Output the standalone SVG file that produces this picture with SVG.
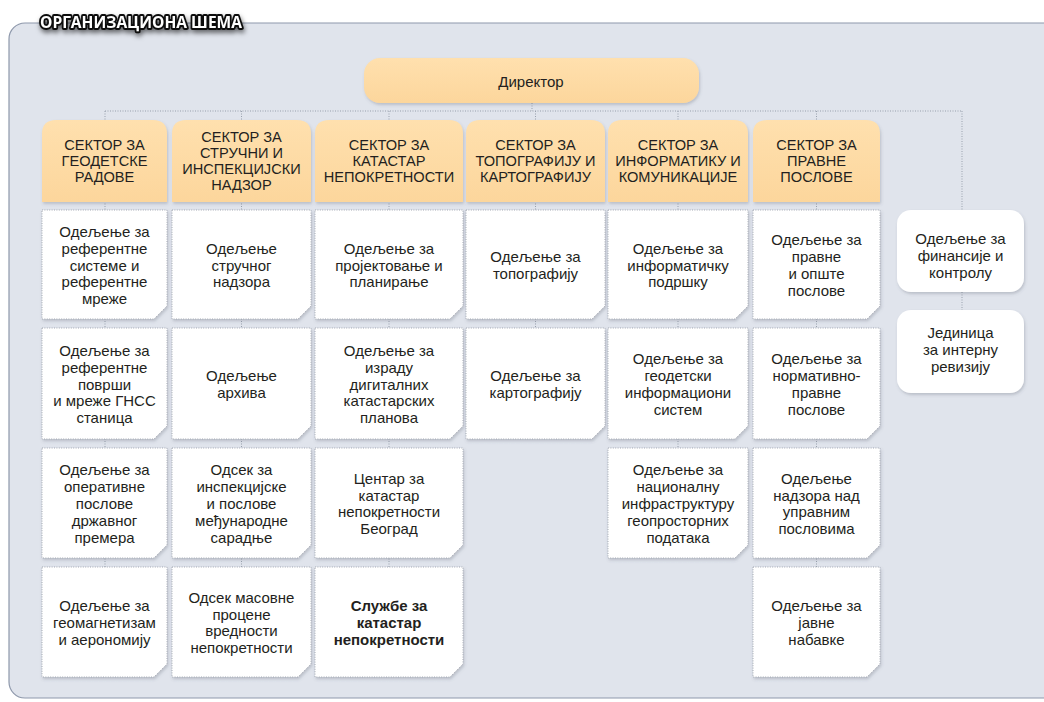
<svg xmlns="http://www.w3.org/2000/svg" width="1044" height="702" viewBox="0 0 1044 702">
<defs>
<linearGradient id="hg" x1="0" y1="0" x2="0" y2="1"><stop offset="0" stop-color="#FFE0AE"/><stop offset="1" stop-color="#FCD69C"/></linearGradient>
<filter id="sh" x="-10%" y="-10%" width="125%" height="130%"><feDropShadow dx="1" dy="2" stdDeviation="1.8" flood-color="#5a6070" flood-opacity="0.28"/></filter>
<filter id="tsh" x="-10%" y="-40%" width="125%" height="200%"><feDropShadow dx="1" dy="3" stdDeviation="2.5" flood-color="#000" flood-opacity="0.55"/></filter>
<style>
.panel{fill:#E0E4EC;stroke:#8E98AB;stroke-width:1.2}
.hdr{fill:url(#hg);filter:url(#sh)}
.cell{fill:#FFFFFF;stroke:#A3A8B2;stroke-width:1;stroke-dasharray:1 1.4;filter:url(#sh)}
.rbox{fill:#FFFFFF;filter:url(#sh)}
.con{fill:none;stroke:#98A0AD;stroke-width:1;stroke-dasharray:1 1.5}
text{font-family:"Liberation Sans",Arial,sans-serif;fill:#231F20;text-anchor:middle}
.h{font-size:14.6px}
.t{font-size:15px}
.b{font-weight:bold}
.title{font-family:"Open Sans","Liberation Sans",sans-serif;font-weight:bold;font-size:16px;fill:#FFFFFF;stroke:#111111;stroke-width:3.8;stroke-linejoin:round;paint-order:stroke;text-anchor:start;filter:url(#tsh)}
</style>
</defs>
<rect x="0" y="0" width="1044" height="702" fill="#FFFFFF"/>
<rect class="panel" x="9" y="23" width="1060" height="675" rx="16"/>
<text class="title" x="40" y="28" textLength="202" lengthAdjust="spacingAndGlyphs">ОРГАНИЗАЦИОНА ШЕМА</text>

<g id="connectors">
<path class="con" d="M532 103V111M105 111H962M105 111V677M241.5 111V677M389 111V677M535.5 111V439M678 111V558M816.5 111V677M962 111V210M962 292V310"/>
</g>

<g id="director">
<rect x="364" y="58" width="335" height="45" rx="16" fill="url(#hg)" filter="url(#sh)"/>
<text class="t" x="531" y="86.5">Директор</text>
</g>

<g id="hdr1"><path class="hdr" d="M42 202V134Q42 120 56 120H153Q167 120 167 134V202Z"/>
<text class="h"><tspan x="104.5" y="149.7">СЕКТОР ЗА</tspan><tspan x="104.5" y="166">ГЕОДЕТСКЕ</tspan><tspan x="104.5" y="182.3">РАДОВЕ</tspan></text></g>
<g id="hdr2"><path class="hdr" d="M172 202V134Q172 120 186 120H297Q311 120 311 134V202Z"/>
<text class="h"><tspan x="241.5" y="141.55">СЕКТОР ЗА</tspan><tspan x="241.5" y="157.85">СТРУЧНИ И</tspan><tspan x="241.5" y="174.15">ИНСПЕКЦИЈСКИ</tspan><tspan x="241.5" y="190.45">НАДЗОР</tspan></text></g>
<g id="hdr3"><path class="hdr" d="M315 202V134Q315 120 329 120H449Q463 120 463 134V202Z"/>
<text class="h"><tspan x="389" y="149.7">СЕКТОР ЗА</tspan><tspan x="389" y="166">КАТАСТАР</tspan><tspan x="389" y="182.3">НЕПОКРЕТНОСТИ</tspan></text></g>
<g id="hdr4"><path class="hdr" d="M466 202V134Q466 120 480 120H591Q605 120 605 134V202Z"/>
<text class="h"><tspan x="535.5" y="149.7">СЕКТОР ЗА</tspan><tspan x="535.5" y="166">ТОПОГРАФИЈУ И</tspan><tspan x="535.5" y="182.3">КАРТОГРАФИЈУ</tspan></text></g>
<g id="hdr5"><path class="hdr" d="M608 202V134Q608 120 622 120H734Q748 120 748 134V202Z"/>
<text class="h"><tspan x="678" y="149.7">СЕКТОР ЗА</tspan><tspan x="678" y="166">ИНФОРМАТИКУ И</tspan><tspan x="678" y="182.3">КОМУНИКАЦИЈЕ</tspan></text></g>
<g id="hdr6"><path class="hdr" d="M753 202V134Q753 120 767 120H866Q880 120 880 134V202Z"/>
<text class="h"><tspan x="816.5" y="149.7">СЕКТОР ЗА</tspan><tspan x="816.5" y="166">ПРАВНЕ</tspan><tspan x="816.5" y="182.3">ПОСЛОВЕ</tspan></text></g>

<!-- column 1 -->
<g id="c1r1"><polygon class="cell" points="42,210 167,210 167,306 154,319 42,319"/>
<text class="t"><tspan x="104.5" y="236.9">Одељење за</tspan><tspan x="104.5" y="253.7">референтне</tspan><tspan x="104.5" y="270.5">системе и</tspan><tspan x="104.5" y="287.3">референтне</tspan><tspan x="104.5" y="304.1">мреже</tspan></text></g>
<g id="c1r2"><polygon class="cell" points="42,328 167,328 167,426 154,439 42,439"/>
<text class="t"><tspan x="104.5" y="355.9">Одељење за</tspan><tspan x="104.5" y="372.7">референтне</tspan><tspan x="104.5" y="389.5">површи</tspan><tspan x="104.5" y="406.3">и мреже ГНСС</tspan><tspan x="104.5" y="423.1">станица</tspan></text></g>
<g id="c1r3"><polygon class="cell" points="42,448 167,448 167,545 154,558 42,558"/>
<text class="t"><tspan x="104.5" y="475.4">Одељење за</tspan><tspan x="104.5" y="492.2">оперативне</tspan><tspan x="104.5" y="509">послове</tspan><tspan x="104.5" y="525.8">државног</tspan><tspan x="104.5" y="542.6">премера</tspan></text></g>
<g id="c1r4"><polygon class="cell" points="42,567 167,567 167,664 154,677 42,677"/>
<text class="t"><tspan x="104.5" y="611.2">Одељење за</tspan><tspan x="104.5" y="628">геомагнетизам</tspan><tspan x="104.5" y="644.8">и аерономију</tspan></text></g>

<!-- column 2 -->
<g id="c2r1"><polygon class="cell" points="172,210 311,210 311,306 298,319 172,319"/>
<text class="t"><tspan x="241.5" y="253.7">Одељење</tspan><tspan x="241.5" y="270.5">стручног</tspan><tspan x="241.5" y="287.3">надзора</tspan></text></g>
<g id="c2r2"><polygon class="cell" points="172,328 311,328 311,426 298,439 172,439"/>
<text class="t"><tspan x="241.5" y="381.1">Одељење</tspan><tspan x="241.5" y="397.9">архива</tspan></text></g>
<g id="c2r3"><polygon class="cell" points="172,448 311,448 311,545 298,558 172,558"/>
<text class="t"><tspan x="241.5" y="475.4">Одсек за</tspan><tspan x="241.5" y="492.2">инспекцијске</tspan><tspan x="241.5" y="509">и послове</tspan><tspan x="241.5" y="525.8">међународне</tspan><tspan x="241.5" y="542.6">сарадње</tspan></text></g>
<g id="c2r4"><polygon class="cell" points="172,567 311,567 311,664 298,677 172,677"/>
<text class="t"><tspan x="241.5" y="602.8">Одсек масовне</tspan><tspan x="241.5" y="619.6">процене</tspan><tspan x="241.5" y="636.4">вредности</tspan><tspan x="241.5" y="653.2">непокретности</tspan></text></g>

<!-- column 3 -->
<g id="c3r1"><polygon class="cell" points="315,210 463,210 463,306 450,319 315,319"/>
<text class="t"><tspan x="389" y="253.7">Одељење за</tspan><tspan x="389" y="270.5">пројектовање и</tspan><tspan x="389" y="287.3">планирање</tspan></text></g>
<g id="c3r2"><polygon class="cell" points="315,328 463,328 463,426 450,439 315,439"/>
<text class="t"><tspan x="389" y="355.9">Одељење за</tspan><tspan x="389" y="372.7">израду</tspan><tspan x="389" y="389.5">дигиталних</tspan><tspan x="389" y="406.3">катастарских</tspan><tspan x="389" y="423.1">планова</tspan></text></g>
<g id="c3r3"><polygon class="cell" points="315,448 463,448 463,545 450,558 315,558"/>
<text class="t"><tspan x="389" y="483.8">Центар за</tspan><tspan x="389" y="500.6">катастар</tspan><tspan x="389" y="517.4">непокретности</tspan><tspan x="389" y="534.2">Београд</tspan></text></g>
<g id="c3r4"><polygon class="cell" points="315,567 463,567 463,664 450,677 315,677"/>
<text class="t b"><tspan x="389" y="611.2">Службе за</tspan><tspan x="389" y="628">катастар</tspan><tspan x="389" y="644.8">непокретности</tspan></text></g>

<!-- column 4 -->
<g id="c4r1"><polygon class="cell" points="466,210 605,210 605,306 592,319 466,319"/>
<text class="t"><tspan x="535.5" y="262.1">Одељење за</tspan><tspan x="535.5" y="278.9">топографију</tspan></text></g>
<g id="c4r2"><polygon class="cell" points="466,328 605,328 605,426 592,439 466,439"/>
<text class="t"><tspan x="535.5" y="381.1">Одељење за</tspan><tspan x="535.5" y="397.9">картографију</tspan></text></g>

<!-- column 5 -->
<g id="c5r1"><polygon class="cell" points="608,210 748,210 748,306 735,319 608,319"/>
<text class="t"><tspan x="678" y="253.7">Одељење за</tspan><tspan x="678" y="270.5">информатичку</tspan><tspan x="678" y="287.3">подршку</tspan></text></g>
<g id="c5r2"><polygon class="cell" points="608,328 748,328 748,426 735,439 608,439"/>
<text class="t"><tspan x="678" y="364.3">Одељење за</tspan><tspan x="678" y="381.1">геодетски</tspan><tspan x="678" y="397.9">информациони</tspan><tspan x="678" y="414.7">систем</tspan></text></g>
<g id="c5r3"><polygon class="cell" points="608,448 748,448 748,545 735,558 608,558"/>
<text class="t"><tspan x="678" y="475.4">Одељење за</tspan><tspan x="678" y="492.2">националну</tspan><tspan x="678" y="509">инфраструктуру</tspan><tspan x="678" y="525.8">геопросторних</tspan><tspan x="678" y="542.6">података</tspan></text></g>

<!-- column 6 -->
<g id="c6r1"><polygon class="cell" points="753,210 880,210 880,306 867,319 753,319"/>
<text class="t"><tspan x="816.5" y="245.3">Одељење за</tspan><tspan x="816.5" y="262.1">правне</tspan><tspan x="816.5" y="278.9">и опште</tspan><tspan x="816.5" y="295.7">послове</tspan></text></g>
<g id="c6r2"><polygon class="cell" points="753,328 880,328 880,426 867,439 753,439"/>
<text class="t"><tspan x="816.5" y="364.3">Одељење за</tspan><tspan x="816.5" y="381.1">нормативно-</tspan><tspan x="816.5" y="397.9">правне</tspan><tspan x="816.5" y="414.7">послове</tspan></text></g>
<g id="c6r3"><polygon class="cell" points="753,448 880,448 880,545 867,558 753,558"/>
<text class="t"><tspan x="816.5" y="483.8">Одељење</tspan><tspan x="816.5" y="500.6">надзора над</tspan><tspan x="816.5" y="517.4">управним</tspan><tspan x="816.5" y="534.2">пословима</tspan></text></g>
<g id="c6r4"><polygon class="cell" points="753,567 880,567 880,664 867,677 753,677"/>
<text class="t"><tspan x="816.5" y="611.2">Одељење за</tspan><tspan x="816.5" y="628">јавне</tspan><tspan x="816.5" y="644.8">набавке</tspan></text></g>

<!-- right boxes -->
<g id="finance"><rect class="rbox" x="897" y="210" width="127" height="82" rx="14"/>
<text class="t"><tspan x="960.5" y="244">Одељење за</tspan><tspan x="960.5" y="260.8">финансије и</tspan><tspan x="960.5" y="277.6">контролу</tspan></text></g>
<g id="audit"><rect class="rbox" x="897" y="310" width="127" height="83" rx="14"/>
<text class="t"><tspan x="960.5" y="338">Јединица</tspan><tspan x="960.5" y="354.8">за интерну</tspan><tspan x="960.5" y="371.6">ревизију</tspan></text></g>
</svg>
